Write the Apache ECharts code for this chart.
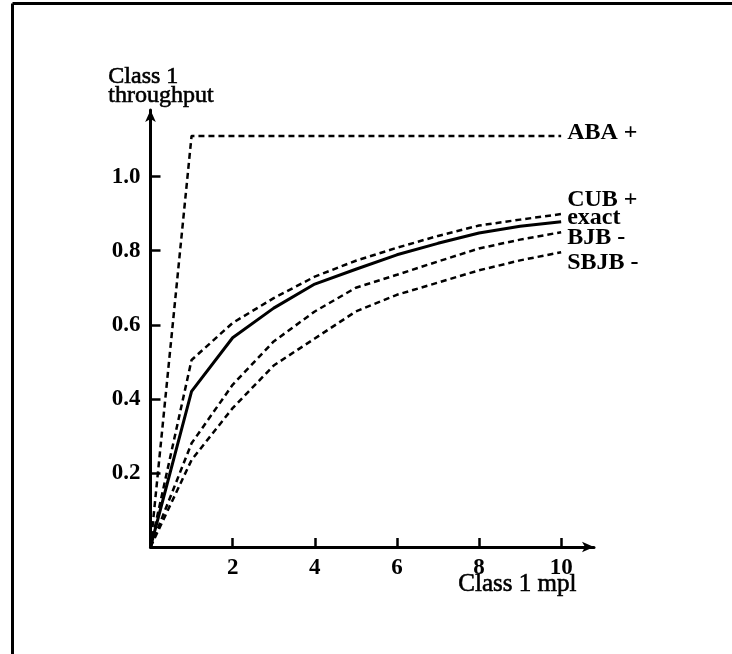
<!DOCTYPE html>
<html>
<head>
<meta charset="utf-8">
<script src="https://cdn.jsdelivr.net/npm/echarts@6/dist/echarts.min.js"></script>
<style>
  html, body { margin: 0; padding: 0; background: #fff; }
  #chart { width: 732px; height: 654px; }
</style>
</head>
<body>
<div id="chart"></div>
<script>
// class 1 mpl (x) and throughput bounds
const mpl = [0, 1, 2, 3, 4, 5, 6, 7, 8, 9, 10];
const exact = [0, 0.42, 0.565, 0.645, 0.71, 0.75, 0.789, 0.82, 0.848, 0.866, 0.878];
const cub = [0, 0.505, 0.605, 0.672, 0.73, 0.773, 0.808, 0.84, 0.868, 0.884, 0.899];
const bjb = [0, 0.28, 0.438, 0.555, 0.636, 0.70, 0.735, 0.771, 0.806, 0.83, 0.85];
const sbjb = [0, 0.235, 0.375, 0.49, 0.563, 0.636, 0.681, 0.714, 0.747, 0.774, 0.796];
const abaX = [0, 1, 10];
const aba = [0, 1.11, 1.11];

const xTicks = [2, 4, 6, 8, 10];
const yTicks = [0.2, 0.4, 0.6, 0.8, 1.0];

const serif = '"Liberation Serif", "DejaVu Serif", serif';

const pairs = (xs, ys) => xs.map((x, i) => [x, ys[i]]);

const lineSeries = (name, xs, ys, dashed, offset) => ({
  name: name,
  type: 'line',
  data: pairs(xs, ys),
  showSymbol: false,
  silent: true,
  lineStyle: {
    color: '#000',
    width: dashed ? 2.5 : 3,
    type: dashed ? [6, 4] : 'solid'
  },
  endLabel: {
    show: true,
    formatter: name,
    color: '#000',
    fontFamily: serif,
    fontSize: 24,
    fontWeight: 'bold',
    distance: 6,
    offset: offset
  }
});

const chart = echarts.init(document.getElementById('chart'));

chart.setOption({
  animation: false,
  backgroundColor: '#fff',
  grid: { left: 150.5, right: 138, top: 110, bottom: 107 },
  xAxis: {
    type: 'value',
    min: 0,
    max: 10.8,
    interval: 2,
    splitLine: { show: false },
    axisLine: {
      lineStyle: { color: '#000', width: 3 },
      symbol: ['none', 'arrow'],
      symbolSize: [8, 12]
    },
    axisTick: {
      inside: true,
      length: 9,
      lineStyle: { color: '#000', width: 2.5 },
      customValues: xTicks
    },
    axisLabel: {
      color: '#000',
      fontFamily: serif,
      fontSize: 23,
      fontWeight: 'bold',
      margin: 10,
      customValues: xTicks
    }
  },
  yAxis: {
    type: 'value',
    min: 0,
    max: 1.18,
    interval: 0.2,
    splitLine: { show: false },
    axisLine: {
      lineStyle: { color: '#000', width: 3 },
      symbol: ['none', 'arrow'],
      symbolSize: [8, 12]
    },
    axisTick: {
      inside: true,
      length: 10,
      lineStyle: { color: '#000', width: 2.5 },
      customValues: yTicks
    },
    axisLabel: {
      color: '#000',
      fontFamily: serif,
      fontSize: 23,
      fontWeight: 'bold',
      margin: 10,
      formatter: v => v.toFixed(1),
      customValues: yTicks
    }
  },
  series: [
    lineSeries('ABA +', abaX, aba, true, [0, -3]),
    lineSeries('CUB +', mpl, cub, true, [0, -14]),
    lineSeries('exact', mpl, exact, false, [0, -4]),
    lineSeries('BJB -', mpl, bjb, true, [0, 6]),
    lineSeries('SBJB -', mpl, sbjb, true, [0, 11])
  ],
  graphic: [
    // frame of the scanned figure
    { type: 'line', shape: { x1: 12.5, y1: 3.5, x2: 732, y2: 3.5 }, style: { stroke: '#000', lineWidth: 3 } },
    { type: 'line', shape: { x1: 12.5, y1: 3.5, x2: 12.5, y2: 654 }, style: { stroke: '#000', lineWidth: 3 } },
    {
      type: 'text',
      left: 108,
      top: 64,
      style: {
        text: 'Class 1\nthroughput',
        fill: '#000',
        stroke: '#000',
        lineWidth: 0.6,
        font: '24px ' + serif,
        lineHeight: 19
      }
    },
    {
      type: 'text',
      left: 458,
      top: 572,
      style: {
        text: 'Class 1 mpl',
        fill: '#000',
        stroke: '#000',
        lineWidth: 0.6,
        font: '25px ' + serif
      }
    }
  ]
});
</script>
</body>
</html>
